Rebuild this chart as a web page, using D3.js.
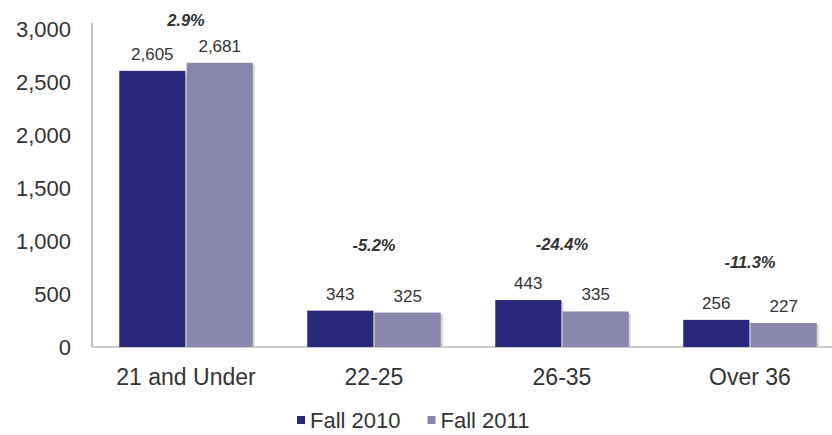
<!DOCTYPE html>
<html>
<head>
<meta charset="utf-8">
<script src="https://cdn.jsdelivr.net/npm/d3@7"></script>
<style>
  body { margin: 0; background: #fff; }
  text { font-family: Arial, "Liberation Sans", sans-serif; fill: #333; }
</style>
</head>
<body>
<svg id="chart" width="832" height="435"></svg>
<script>
const categories = ['21 and Under', '22-25', '26-35', 'Over 36'];
const seriesNames = ['Fall 2010', 'Fall 2011'];
const fall2010 = [2605, 343, 443, 256];
const fall2011 = [2681, 325, 335, 227];
const changeLabels = ['2.9%', '-5.2%', '-24.4%', '-11.3%'];
// height (in data units) where each change label sits
const changeAt = [3085, 962, 972, 802];
const yTicks = [0, 500, 1000, 1500, 2000, 2500, 3000];

const colors = ['#29277a', '#8886ab'];
const svg = d3.select('#chart');
const margin = { top: 29, left: 92, right: -12, bottom: 88 };
const width = 832 - margin.left - margin.right;
const height = 435 - margin.top - margin.bottom;

const x = d3.scaleBand().domain(categories).range([margin.left, margin.left + width]).paddingInner(0.29).paddingOuter(0.145);
const xs = d3.scaleBand().domain(seriesNames).range([0, x.bandwidth()]).paddingInner(0.02);
const y = d3.scaleLinear().domain([0, 3000]).range([margin.top + height, margin.top]);

// axis lines
svg.append('line')
  .attr('x1', margin.left).attr('x2', margin.left)
  .attr('y1', y(3000) - 6).attr('y2', y(0))
  .attr('stroke', '#999').attr('stroke-width', 1.2);
svg.append('line')
  .attr('x1', margin.left).attr('x2', 832)
  .attr('y1', y(0)).attr('y2', y(0))
  .attr('stroke', '#999').attr('stroke-width', 1.2);

svg.append('g').selectAll('text')
  .data(yTicks)
  .join('text')
  .attr('x', 71)
  .attr('y', d => y(d))
  .attr('dy', '0.35em')
  .attr('text-anchor', 'end')
  .attr('font-size', 22)
  .text(d => d3.format(',')(d));

const series = [fall2010, fall2011];
const groups = svg.append('g').selectAll('g')
  .data(categories)
  .join('g')
  .attr('transform', d => `translate(${x(d)},0)`);

series.forEach((vals, si) => {
  // soft shadow
  groups.append('rect')
    .attr('x', xs(seriesNames[si]) + 2)
    .attr('y', (d, i) => y(vals[i]) + 2)
    .attr('width', xs.bandwidth())
    .attr('height', (d, i) => y(0) - y(vals[i]) - 2)
    .attr('fill', '#d4d4d8');
  groups.append('rect')
    .attr('x', xs(seriesNames[si]))
    .attr('y', (d, i) => y(vals[i]))
    .attr('width', xs.bandwidth())
    .attr('height', (d, i) => y(0) - y(vals[i]))
    .attr('fill', colors[si]);
  groups.append('text')
    .attr('x', xs(seriesNames[si]) + xs.bandwidth() / 2)
    .attr('y', (d, i) => y(vals[i]) - 11)
    .attr('text-anchor', 'middle')
    .attr('font-size', 17)
    .text((d, i) => d3.format(',')(vals[i]));
});

groups.append('text')
  .attr('x', x.bandwidth() / 2)
  .attr('y', (d, i) => y(changeAt[i]))
  .attr('dy', '0.35em')
  .attr('text-anchor', 'middle')
  .attr('font-size', 16.5)
  .attr('font-weight', 'bold')
  .attr('font-style', 'italic')
  .text((d, i) => changeLabels[i]);

groups.append('text')
  .attr('x', x.bandwidth() / 2)
  .attr('y', y(0) + 30)
  .attr('dy', '0.35em')
  .attr('text-anchor', 'middle')
  .attr('font-size', 23)
  .text(d => d);

// legend
const legend = svg.append('g').attr('transform', 'translate(297,420)');
let cx = 0;
seriesNames.forEach((s, i) => {
  const g = legend.append('g').attr('transform', `translate(${cx},0)`);
  g.append('rect').attr('x', 0).attr('y', -4).attr('width', 8).attr('height', 8).attr('fill', colors[i]);
  const t = g.append('text').attr('x', 13).attr('y', 0).attr('dy', '0.35em').attr('font-size', 22).text(s);
  cx += 13 + t.node().getComputedTextLength() + 27;
});
</script>
</body>
</html>
